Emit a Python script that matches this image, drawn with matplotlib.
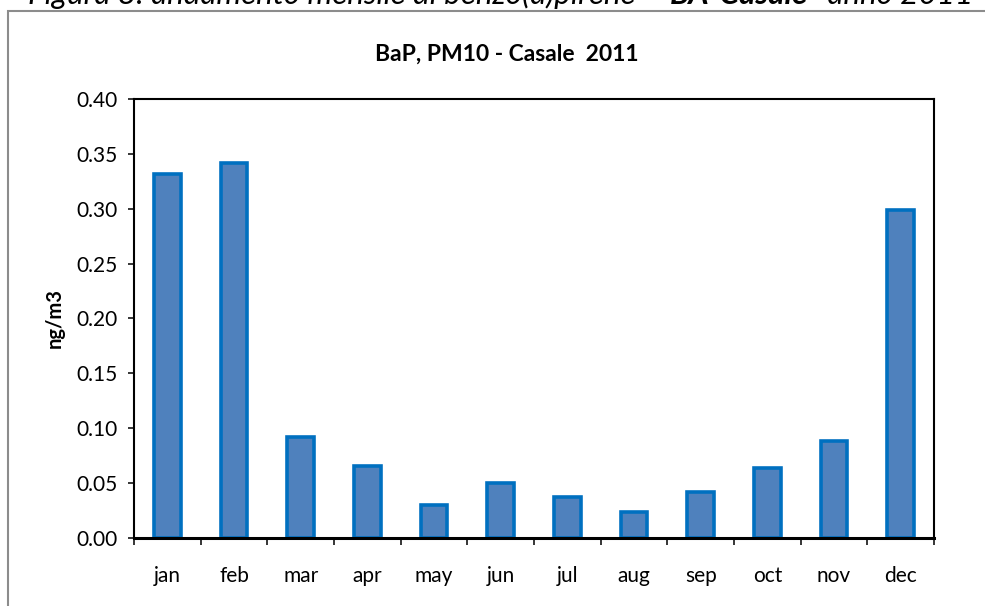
import numpy as np
import matplotlib
matplotlib.use("Agg")
import matplotlib.pyplot as plt
from matplotlib.patches import Rectangle

# -------------------------------
# --- Données ---
# -------------------------------
mesi = ["jan", "feb", "mar", "apr", "may", "jun", "jul", "aug", "sep", "oct", "nov", "dec"]
bap = [0.332, 0.342, 0.092, 0.066, 0.030, 0.050, 0.037, 0.024, 0.042, 0.064, 0.088, 0.299]
yticks = [0.00, 0.05, 0.10, 0.15, 0.20, 0.25, 0.30, 0.35, 0.40]

titolo = "BaP, PM10 - Casale  2011"
didascalia = ["Figura 8: andamento mensile di benzo(a)pirene – ", "BA-Casale", "- anno 2011"]

plt.rcParams["font.family"] = ["Lato", "DejaVu Sans"]

fig = plt.figure(figsize=(9.85, 6.06), dpi=100)
W, H = 985, 606
ax = fig.add_axes([134 / W, 1 - 538 / H, 800 / W, 439 / H])

x = np.arange(len(mesi))
ax.bar(x, bap, width=0.4, color="#4F81BD", edgecolor="#0070C0", linewidth=2.6, zorder=2)

ax.set_xlim(-0.5, len(mesi) - 0.5)
ax.set_ylim(0, 0.40)
ax.set_yticks(yticks)
ax.set_yticklabels([f"{v:.2f}" for v in yticks])
ax.set_xticks(x)
ax.set_xticklabels(mesi)
ax.set_xticks(np.arange(-0.5, len(mesi)), minor=True)

ax.tick_params(axis="y", direction="out", length=4.5, width=1.1, pad=7.5, labelsize=15)
ax.tick_params(axis="x", which="major", length=0, pad=20, labelsize=15)
ax.tick_params(axis="x", which="minor", direction="out", length=5, width=1.1)

for lato in ["left", "top", "right"]:
    ax.spines[lato].set_linewidth(1.5)
ax.spines["bottom"].set_linewidth(2.2)
ax.spines["bottom"].set_zorder(3)

ax.set_ylabel("ng/m3", fontsize=14.5, fontweight="bold")
ax.yaxis.set_label_coords(-0.086, 0.5)

# titolo del grafico
fig.text(507 / W, 1 - 61 / H, titolo, ha="center", va="baseline", fontsize=16.5, fontweight="bold")

# bordo grigio dell'area del grafico
fig.patches.append(Rectangle((8 / W, -0.1), 1.2, 1 - 11 / H + 0.1, transform=fig.transFigure,
                             fill=False, edgecolor="#8C8C8C", linewidth=1.5))

# didascalia tagliata in alto
fig.canvas.draw()
r = fig.canvas.get_renderer()
xpos = 28
for i, parte in enumerate(didascalia):
    t = fig.text(xpos / W, 1 - 4 / H, parte, ha="left", va="baseline", fontsize=22.6,
                 style="italic", fontweight="bold" if i == 1 else "normal")
    xpos = t.get_window_extent(r).x1 + 1

fig.savefig("out.png", dpi=100)
